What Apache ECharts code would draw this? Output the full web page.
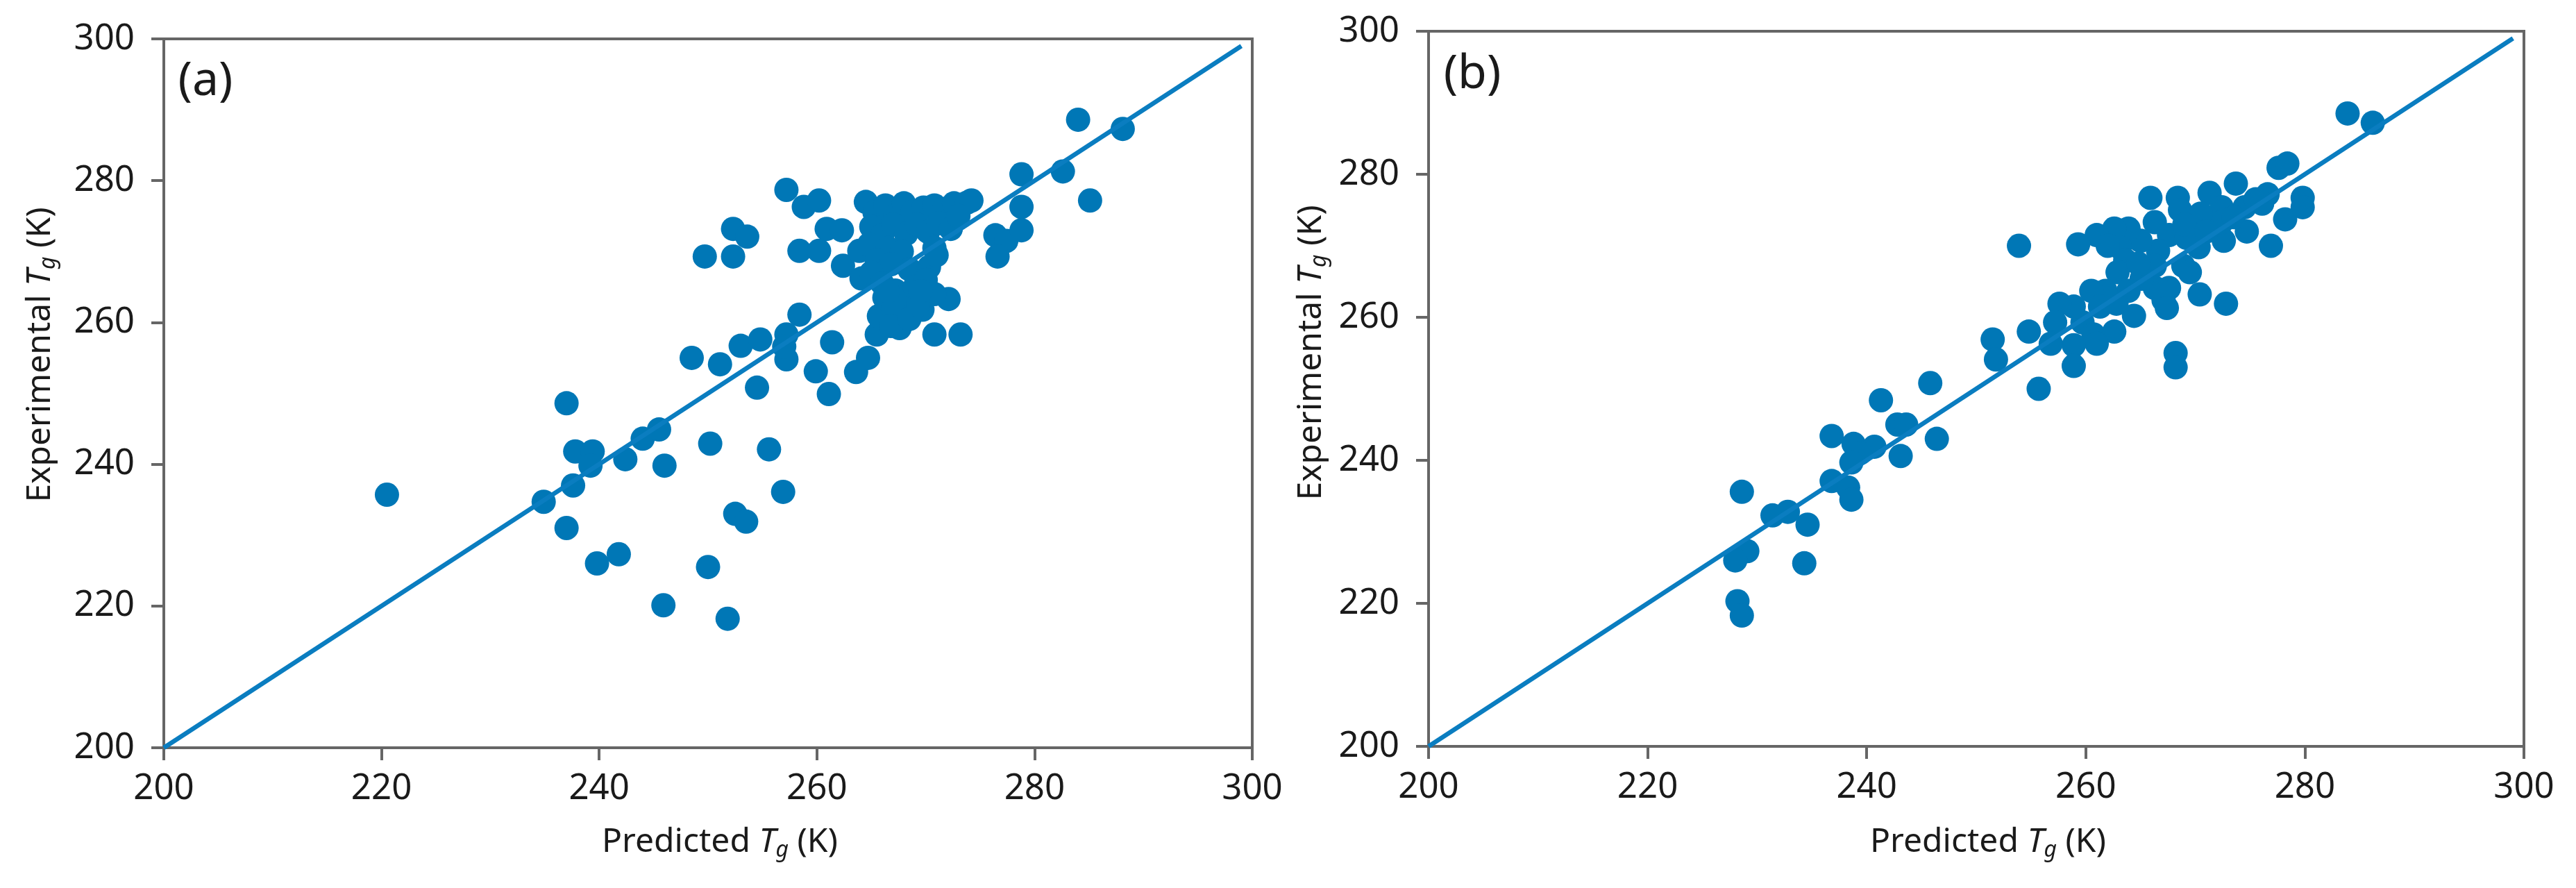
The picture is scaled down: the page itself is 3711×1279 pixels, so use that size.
<!DOCTYPE html>
<html>
<head>
<meta charset="utf-8">
<script src="https://cdn.jsdelivr.net/npm/echarts@6/dist/echarts.min.js"></script>
<style>
html,body{margin:0;padding:0;background:#fff;}
#chart{width:3711px;height:1279px;}
</style>
</head>
<body>
<div id="chart"></div>
<script>
// Panel (a): predicted vs experimental Tg
const predA = [220.5,234.9,237.0,237.0,237.6,237.8,239.4,239.2,239.8,241.8,242.4,244.0,245.5,246.0,245.9,248.5,249.7,250.2,250.0,251.1,251.8,252.3,252.3,252.5,253.0,253.6,253.5,254.5,254.8,255.6,256.9,257.2,257.2,257.2,257.0,258.4,258.4,258.8,259.9,260.2,260.2,260.9,261.1,261.4,262.3,262.4,263.6,263.9,264.1,264.7,265.5,265.7,267.6,269.7,270.8,272.1,273.2,274.2,276.4,277.4,276.6,278.8,278.8,278.8,282.6,284.0,285.1,288.1,
264.5,265.3,266.3,267.2,268.0,268.8,269.8,270.8,271.7,272.6,273.8,265.0,266.0,267.0,268.2,269.2,270.2,271.2,272.3,273.0,264.8,266.5,267.8,270.8,265.5,266.8,268.5,270.3,271.0,265.0,266.0,267.2,268.0,269.0,270.0,270.8,266.2,267.0,266.8,268.5,269.3,266.5,269.5];
const expA = [235.7,234.7,248.6,231.0,237.0,241.8,241.8,239.8,226.0,227.3,240.7,243.6,244.9,239.8,220.1,255.0,269.3,242.9,225.5,254.1,218.2,269.3,273.2,233.0,256.7,272.1,231.9,250.8,257.6,242.1,236.1,278.7,258.3,254.8,256.6,261.1,270.1,276.3,253.1,277.2,270.1,273.2,249.9,257.2,273.0,268.0,253.0,270.1,266.2,255.0,258.3,260.9,259.2,261.8,258.3,263.3,258.3,277.2,272.3,271.5,269.3,280.9,276.3,273.0,281.3,288.6,277.2,287.3,
277.0,275.5,276.5,275.0,276.8,275.6,276.2,276.5,276.0,276.8,276.9,273.5,272.3,273.8,272.5,273.8,272.8,274.0,273.2,275.0,271.0,270.5,270.0,270.5,268.8,268.2,267.5,267.8,269.5,267.0,265.5,264.5,263.0,265.0,266.0,264.0,263.5,262.0,259.5,260.5,262.5,264.4,264.4];

// Panel (b)
const predB = [283.9,286.2,277.6,278.4,279.8,279.8,278.2,276.9,276.6,276.1,273.7,271.3,272.4,274.5,274.7,272.6,272.4,270.3,268.4,268.6,265.9,266.3,267.6,269.2,268.9,269.5,266.6,265.0,263.9,262.6,261.0,259.3,253.9,263.1,263.6,262.9,266.3,266.3,267.1,267.6,267.4,265.1,263.9,264.4,262.8,261.8,260.5,261.3,259.7,258.9,257.6,257.2,260.7,262.6,261.0,258.9,256.8,258.9,254.8,251.5,251.8,255.7,270.4,272.8,268.2,268.2,245.8,241.3,242.8,243.6,236.8,238.8,240.7,239.4,238.6,243.1,246.4,236.8,238.3,238.6,228.6,231.4,232.8,234.6,229.1,228.0,234.3,228.2,228.6,273.5,270.5,269.0,264.8,262.0,271.0,275.5];
const expB = [288.5,287.2,280.9,281.5,276.7,275.4,273.7,270.0,277.2,275.9,278.7,277.4,275.4,275.4,272.0,270.7,273.3,269.8,276.7,275.0,276.7,273.3,271.5,271.1,267.2,266.3,269.3,270.7,272.4,272.4,271.5,270.2,270.0,269.8,268.0,266.3,267.2,264.1,262.4,264.1,261.3,265.4,263.7,260.2,261.9,263.7,263.7,261.5,259.3,261.5,261.9,259.3,257.6,258.0,256.3,256.1,256.3,253.2,258.0,256.9,254.1,250.0,263.2,261.9,255.0,253.0,250.8,248.4,245.0,245.0,243.4,242.3,241.9,241.0,239.7,240.6,243.0,237.1,236.2,234.5,235.6,232.3,232.8,231.0,227.3,226.0,225.6,220.3,218.3,274.0,274.5,273.0,267.5,270.0,272.0,276.5];

const parityLine = [[200,200],[299,299]];
const axisTicks = [200,220,240,260,280,300];

const zip = (a,b) => a.map((v,i)=>[v,b[i]]);
const axisColor = '#666666';
const dotColor = '#0077b6';
const lineColor = '#0a7dc0';
const font = 'Noto Sans';

function makeAxis(idx, margin){
  return {
    type:'value', gridIndex: idx, min: axisTicks[0], max: axisTicks[axisTicks.length-1], interval: 20,
    axisLine:{show:true, onZero:false, lineStyle:{color:axisColor, width:4}},
    axisTick:{show:true, inside:false, length:18, lineStyle:{color:axisColor, width:4}},
    axisLabel:{fontSize:51, color:'#1a1a1a', margin:margin, fontFamily:font},
    splitLine:{show:false}
  };
}

function richLabel(first){
  return {
    text: '{n|' + first + ' }{i|T}{s|g}{n| (K)}',
    rich: {
      n:{fontSize:48, fontFamily:font, fill:'#1a1a1a', lineHeight:56},
      i:{fontSize:48, fontFamily:font, fontStyle:'italic', fill:'#1a1a1a', lineHeight:56},
      s:{fontSize:32, fontFamily:font, fontStyle:'italic', fill:'#1a1a1a', lineHeight:32, verticalAlign:'bottom'}
    },
    align:'center', verticalAlign:'middle'
  };
}

const chart = echarts.init(document.getElementById('chart'), null, {renderer:'canvas'});
chart.setOption({
  animation:false,
  backgroundColor:'#ffffff',
  grid:[
    {left:236, top:56, width:1568, height:1021, show:true, borderColor:axisColor, borderWidth:4, backgroundColor:'transparent'},
    {left:2058, top:45, width:1578, height:1030, show:true, borderColor:axisColor, borderWidth:4, backgroundColor:'transparent'}
  ],
  xAxis:[makeAxis(0,34), makeAxis(1,34)],
  yAxis:[makeAxis(0,42), makeAxis(1,42)],
  series:[
    {type:'scatter', xAxisIndex:0, yAxisIndex:0, data:zip(predA,expA), symbolSize:35, itemStyle:{color:dotColor, opacity:1}, z:2},
    {type:'line', xAxisIndex:0, yAxisIndex:0, data:parityLine, showSymbol:false, lineStyle:{color:lineColor, width:6.5}, z:3},
    {type:'scatter', xAxisIndex:1, yAxisIndex:1, data:zip(predB,expB), symbolSize:35, itemStyle:{color:dotColor, opacity:1}, z:2},
    {type:'line', xAxisIndex:1, yAxisIndex:1, data:parityLine, showSymbol:false, lineStyle:{color:lineColor, width:6.5}, z:3}
  ],
  graphic:[
    {type:'text', x:296, y:118, style:{text:'(a)', fontSize:68, fontFamily:font, fill:'#1a1a1a', align:'center', verticalAlign:'middle'}},
    {type:'text', x:2121, y:108, style:{text:'(b)', fontSize:68, fontFamily:font, fill:'#1a1a1a', align:'center', verticalAlign:'middle'}},
    {type:'text', x:1037, y:1213, style:richLabel('Predicted')},
    {type:'text', x:2864, y:1213, style:richLabel('Predicted')},
    {type:'text', x:58, y:511, rotation:Math.PI/2, style:richLabel('Experimental')},
    {type:'text', x:1889, y:508, rotation:Math.PI/2, style:richLabel('Experimental')}
  ]
});
</script>
</body>
</html>
